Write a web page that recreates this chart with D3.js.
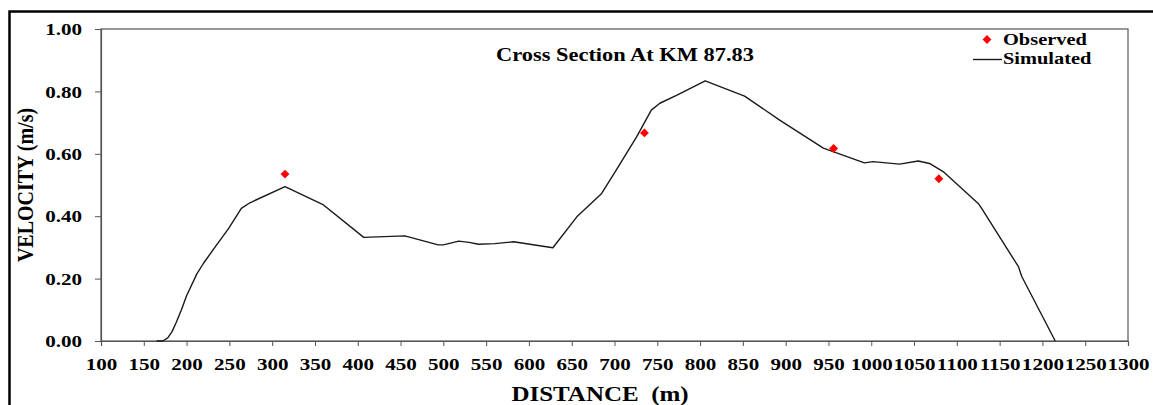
<!DOCTYPE html>
<html>
<head>
<meta charset="utf-8">
<script src="https://cdn.jsdelivr.net/npm/d3@7"></script>
<style>
  body { margin: 0; background: #fff; }
  text { font-family: "Liberation Serif", "Times New Roman", serif; font-weight: bold; fill: #000; }
</style>
</head>
<body>
<div class="draw"></div>
<script>
// simulated velocity profile (distance m, velocity m/s)
const simDistance = [165, 172, 178, 183, 188, 194, 200, 212, 220, 233, 249, 264, 274, 315, 360, 407, 455, 494, 500, 518, 530, 541, 560, 582, 628, 656, 685, 702, 726, 743, 753, 773, 806, 852, 893, 944, 992, 1002, 1033, 1055, 1068, 1084, 1125, 1129, 1172, 1176, 1215];
const simVelocity = [0, 0, 0.01, 0.03, 0.06, 0.1, 0.145, 0.215, 0.25, 0.30, 0.36, 0.425, 0.443, 0.495, 0.436, 0.332, 0.337, 0.308, 0.308, 0.32, 0.316, 0.31, 0.312, 0.318, 0.299, 0.398, 0.473, 0.548, 0.655, 0.74, 0.762, 0.788, 0.834, 0.785, 0.708, 0.618, 0.571, 0.575, 0.567, 0.577, 0.569, 0.543, 0.441, 0.425, 0.238, 0.206, 0];

// observed points
const obsDistance = [315, 735, 956, 1079];
const obsVelocity = [0.535, 0.667, 0.617, 0.52];

const xTicks = d3.range(100, 1301, 50);
const yTicks = [0, 0.2, 0.4, 0.6, 0.8, 1.0];

const width = 1153, height = 405;
const margin = { top: 29, right: 25, bottom: 64, left: 101 };
const graphWidth = width - margin.left - margin.right;
const graphHeight = height - margin.top - margin.bottom;
const stretch = 1.24; // text in the original is wider than normal

const svg = d3.select(".draw")
    .append("svg")
    .attr("width", width)
    .attr("height", height);

// outer frame (right/bottom edges fall outside the picture)
svg.append("rect")
    .attr("x", 9.5).attr("y", 11.5)
    .attr("width", 1200).attr("height", 450)
    .attr("fill", "none")
    .attr("stroke", "#000")
    .attr("stroke-width", 2.5);

const graph = svg.append("g")
    .attr("transform", `translate(${margin.left}, ${margin.top})`);

const x = d3.scaleLinear().domain([100, 1300]).range([0, graphWidth]);
const y = d3.scaleLinear().domain([0, 1]).range([graphHeight, 0]);

// plot box
graph.append("rect")
    .attr("width", graphWidth)
    .attr("height", graphHeight)
    .attr("fill", "none")
    .attr("stroke", "#555")
    .attr("stroke-width", 1.2);

//axes
const xAxisGroup = graph.append("g")
    .attr("transform", `translate(0, ${graphHeight})`)
    .call(d3.axisBottom(x).tickValues(xTicks).tickSize(5).tickFormat(d => d));
const yAxisGroup = graph.append("g")
    .call(d3.axisLeft(y).tickValues(yTicks).tickSize(6).tickFormat(d3.format(".2f")));

[xAxisGroup, yAxisGroup].forEach(g => {
  g.select(".domain").attr("stroke", "#555").attr("stroke-width", 1.2);
  g.selectAll(".tick line").attr("stroke", "#555");
  g.selectAll("text")
      .attr("font-family", null)
      .style("font-size", "17px")
      .attr("transform", `scale(${stretch},1)`);
});
xAxisGroup.selectAll("text").attr("y", 17).attr("dy", "0.71em");
yAxisGroup.selectAll("text").attr("x", -15.3).attr("dy", "0.34em");

// simulated line
const line = d3.line()
    .x((d, i) => x(simDistance[i]))
    .y((d, i) => y(simVelocity[i]));

graph.append("path")
    .datum(simDistance)
    .attr("fill", "none")
    .attr("stroke", "#1a1a1a")
    .attr("stroke-width", 1.4)
    .attr("stroke-linejoin", "round")
    .attr("d", line);

// observed diamonds
const diamond = d3.symbol().type(d3.symbolDiamond2).size(50);
graph.selectAll(".obs")
    .data(obsDistance)
    .join("path")
    .attr("class", "obs")
    .attr("transform", (d, i) => `translate(${x(d)}, ${y(obsVelocity[i])})`)
    .attr("fill", "#ff0000")
    .attr("d", diamond);

// title
svg.append("text")
    .attr("transform", `translate(625, 61) scale(1.18,1)`)
    .attr("text-anchor", "middle")
    .style("font-size", "19px")
    .text("Cross Section At KM 87.83");

// legend
svg.append("path")
    .attr("transform", "translate(987, 39.5)")
    .attr("fill", "#ff0000")
    .attr("d", diamond);
svg.append("text")
    .attr("transform", `translate(1003, 45) scale(1.2,1)`)
    .style("font-size", "17px")
    .text("Observed");
svg.append("line")
    .attr("x1", 973).attr("x2", 1002)
    .attr("y1", 59.5).attr("y2", 59.5)
    .attr("stroke", "#1a1a1a")
    .attr("stroke-width", 1.4);
svg.append("text")
    .attr("transform", `translate(1003, 64) scale(1.2,1)`)
    .style("font-size", "17px")
    .text("Simulated");

// axis titles
svg.append("text")
    .attr("transform", `translate(600, 401) scale(1.25,1)`)
    .attr("text-anchor", "middle")
    .style("font-size", "20px")
    .style("white-space", "pre")
    .text("DISTANCE  (m)");

svg.append("text")
    .attr("transform", `translate(33, 185) rotate(-90) scale(1,1.2)`)
    .attr("text-anchor", "middle")
    .style("font-size", "20px")
    .text("VELOCITY (m/s)");
</script>
</body>
</html>
